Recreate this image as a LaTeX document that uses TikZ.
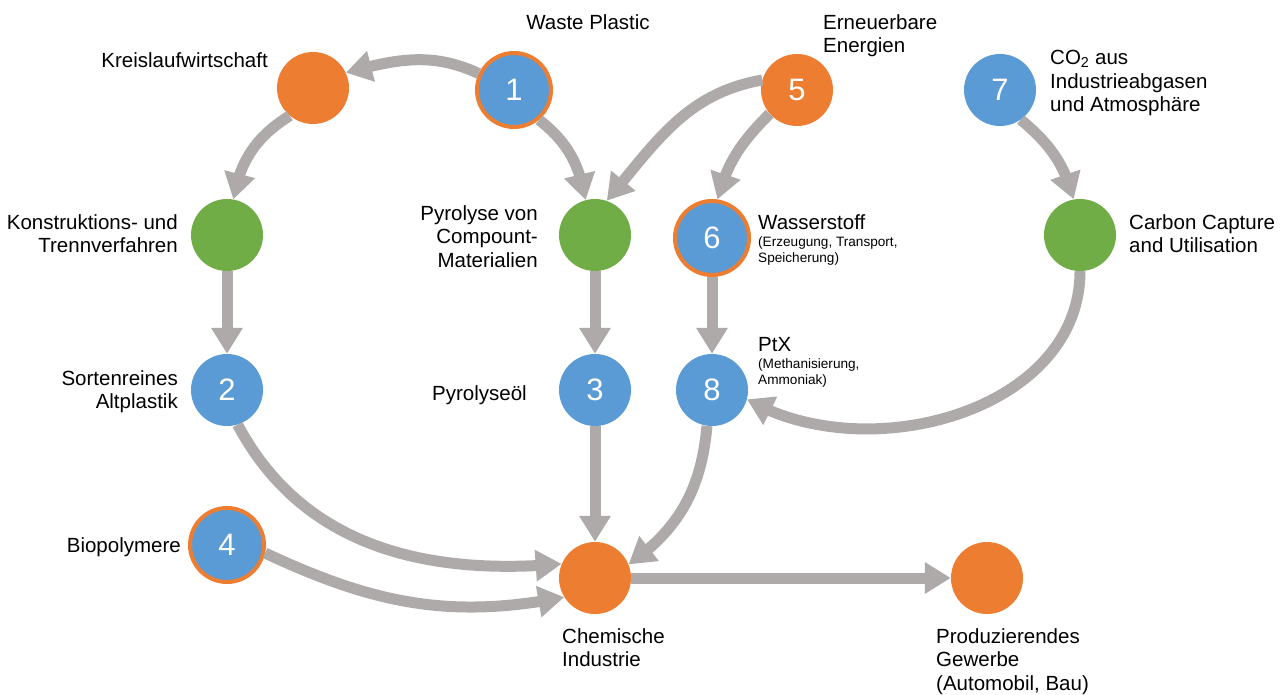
\documentclass[tikz,border=0pt]{standalone}
\usepackage{fontspec}
\setmainfont{Liberation Sans}
\usetikzlibrary{arrows.meta}
\usetikzlibrary{bending}
\usetikzlibrary{positioning}
\definecolor{orange}{RGB}{237,125,49}
\definecolor{blue}{RGB}{91,155,213}
\definecolor{green}{RGB}{112,173,71}
\definecolor{gray}{RGB}{174,170,170}
\tikzset{
  dot/.style={circle, minimum size=72pt, inner sep=0,
    font=\fontsize{31}{31}\selectfont, text=white},
  hub/.style={dot, fill=orange},
  source/.style={dot, fill=blue},
  process/.style={dot, fill=green},
  ringed/.style={dot, fill=blue, draw=orange, line width=4pt, minimum size=74pt},
  txt/.style={inner sep=0, align=left, font=\fontsize{20.5}{23.5}\selectfont},
  note/.style={inner sep=0, align=left, font=\fontsize{13.6}{16}\selectfont},
  arrow/.style={-{Triangle[width=30pt,length=26pt,flex]}, line width=11pt, draw=gray}
}
\begin{document}
\begin{tikzpicture}[x=1pt,y=1pt]
  \useasboundingbox (0,0) rectangle (1287,-695);

  % stations
  \node[hub]     (kreis)  at (313,-88)  {};
  \node[ringed]  (n1)     at (514,-90)  {1};
  \node[hub]     (n5)     at (797,-90)  {5};
  \node[source]  (n7)     at (1000,-90) {7};
  \node[process] (konstr) at (227,-235) {};
  \node[process] (pyro)   at (595,-235) {};
  \node[ringed]  (n6)     at (712,-238) {6};
  \node[process] (ccu)    at (1080,-235) {};
  \node[source]  (n2)     at (227,-390) {2};
  \node[source]  (n3)     at (595,-390) {3};
  \node[source]  (n8)     at (712,-390) {8};
  \node[ringed]  (n4)     at (227,-545) {4};
  \node[hub]     (chem)   at (595,-578) {};
  \node[hub]     (prod)   at (987,-578) {};

  % labels
  \node[txt, anchor=north east] (kreislbl) at (268,-52) {Kreislaufwirtschaft};
  \node[txt, anchor=north] (wastelbl) at (588,-14) {Waste Plastic};
  \node[txt, anchor=north west] (n5lbl) at (823,-14) {Erneuerbare\\Energien};
  \node[txt, anchor=north west] (n7lbl) at (1050,-50) {CO\textsubscript{2} aus\\Industrieabgasen\\und Atmosphäre};
  \node[txt, anchor=north east, align=right] (konstrlbl) at (178,-214) {Konstruktions- und\\Trennverfahren};
  \node[txt, anchor=north east, align=right] (pyrolbl) at (538,-205) {Pyrolyse von\\Compount-\\Materialien};
  \node[txt, anchor=north west] (n6lbl) at (758,-214) {Wasserstoff};
  \node[note, below right=7pt and 0pt of n6lbl.south west] (n6note) {(Erzeugung, Transport,\\Speicherung)};
  \node[txt, anchor=north west] (ccult) at (1129,-214) {Carbon Capture\\and Utilisation};
  \node[txt, anchor=north east, align=right] (n2lbl) at (178,-370) {Sortenreines\\Altplastik};
  \node[txt, anchor=base east] (n3lbl) at (527,-400) {Pyrolyseöl};
  \node[txt, anchor=north west] (n8lbl) at (758,-337) {PtX};
  \node[note, below right=7pt and 0pt of n8lbl.south west] (n8note) {(Methanisierung,\\Ammoniak)};
  \node[txt, anchor=base east] (n4lbl) at (181,-552) {Biopolymere};
  \node[txt, anchor=north west] (chemlbl) at (562,-628) {Chemische\\Industrie};
  \node[txt, anchor=north west] (prodlbl) at (936,-628) {Produzierendes\\Gewerbe\\(Automobil, Bau)};

  % flows
  \draw[arrow] (n1.155) to[out=155,in=15] (kreis.25);
  \draw[arrow] (kreis.230) to[out=212,in=80] (konstr.80);
  \draw[arrow] (n1.-50) to[out=-38,in=100] (pyro.105);
  \draw[arrow] (n5.164) to[out=190,in=50] (pyro.71);
  \draw[arrow] (n5.221) to[out=225,in=75] (n6.82);
  \draw[arrow] (n7.-55) to[out=-40,in=105] (ccu.100);
  \draw[arrow] (konstr) -- (n2);
  \draw[arrow] (pyro) -- (n3);
  \draw[arrow] (n6) -- (n8);
  \draw[arrow] (ccu.-90) to[out=-90,in=-30] (n8.-15);
  \draw[arrow] (n2.-73) to[out=-62,in=185] (chem.157);
  \draw[arrow] (n4.-12) to[out=-25,in=191] (chem.212);
  \draw[arrow] (n3) -- (chem);
  \draw[arrow] (n8.-98) to[out=-95,in=35] (chem.22);
  \draw[arrow] (chem) -- (prod);
\end{tikzpicture}
\end{document}
